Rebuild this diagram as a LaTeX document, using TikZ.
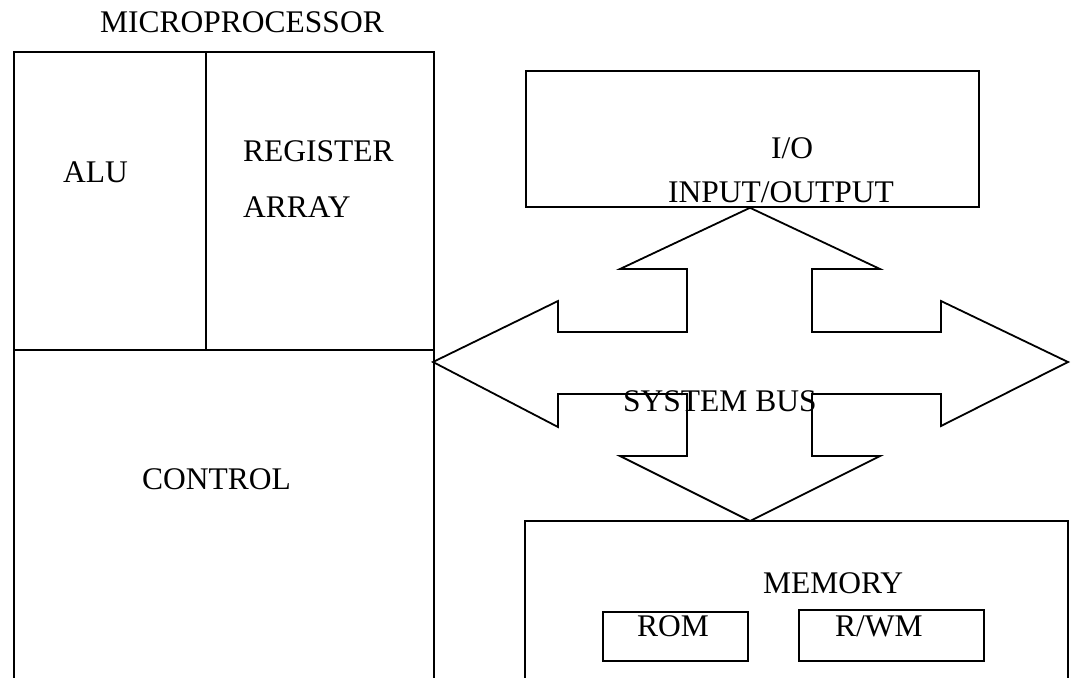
\documentclass[tikz,border=0pt]{standalone}
\usepackage{fontspec}
\setmainfont{Liberation Serif}
\begin{document}
\begin{tikzpicture}[x=1pt,y=-1pt,
  frame/.style={draw=black,line width=1.8pt,line join=miter},
  lbl/.style={inner sep=0pt,anchor=base west,font=\fontsize{31.5}{36}\selectfont},
  subbox/.style={frame,anchor=north west,inner sep=0pt}]
\useasboundingbox (0,0) rectangle (1075,677);

% microprocessor block (open at the bottom edge)
\coordinate (mpTL) at (14,52);
\coordinate (mpTR) at (434,52);
\coordinate (mpML) at (14,350);
\coordinate (mpMR) at (434,350);
\coordinate (mpMid) at (206,350);
\coordinate (mpTop) at (206,52);
\draw[frame] (14,690) -- (mpTL) -- (mpTR) -- (434,690);
\draw[frame] (mpML) -- (mpMR);
\draw[frame] (mpTop) -- (mpMid);
\node[lbl] (mptitle) at (100,33) {MICROPROCESSOR};
\node[lbl] (alu) at (63,182) {ALU};
\node[lbl] (reg1) at (243,161) {REGISTER};
\node[lbl] (reg2) at (243,217) {ARRAY};
\node[lbl] (ctrl) at (142,489) {CONTROL};

% input/output block
\node[subbox,minimum width=453pt,minimum height=136pt] (io) at (525,70) {};
\node[lbl] (iot1) at (771,158) {I/O};
\node[lbl] (iot2) at (668,202) {INPUT/OUTPUT};

% memory block (open at the bottom edge)
\coordinate (memTL) at (525,521);
\coordinate (memTR) at (1068,521);
\coordinate (memTip) at (750,521);
\draw[frame] (525,690) -- (memTL) -- (memTR) -- (1068,690);
\node[lbl] (memt) at (763,593) {MEMORY};
\node[subbox,minimum width=145pt,minimum height=49pt] (rom) at (602,611) {};
\node[subbox,minimum width=185pt,minimum height=51pt] (rwm) at (798,609) {};
\node[lbl] (romt) at (637,636) {ROM};
\node[lbl] (rwmt) at (835,636) {R/WM};

% four-way system bus arrow
\draw[frame] (433,362) -- (558,301) -- (558,332) -- (687,332) -- (687,269)
  -- (620,269) -- (io.south -| memTip) -- (880,269) -- (812,269) -- (812,332)
  -- (941,332) -- (941,301) -- (1068,362) -- (941,426) -- (941,394)
  -- (812,394) -- (812,456) -- (880,456) -- (memTip) -- (620,456)
  -- (687,456) -- (687,394) -- (558,394) -- (558,427) -- cycle;
\node[lbl] (bus) at (623,411) {SYSTEM BUS};
\end{tikzpicture}
\end{document}
